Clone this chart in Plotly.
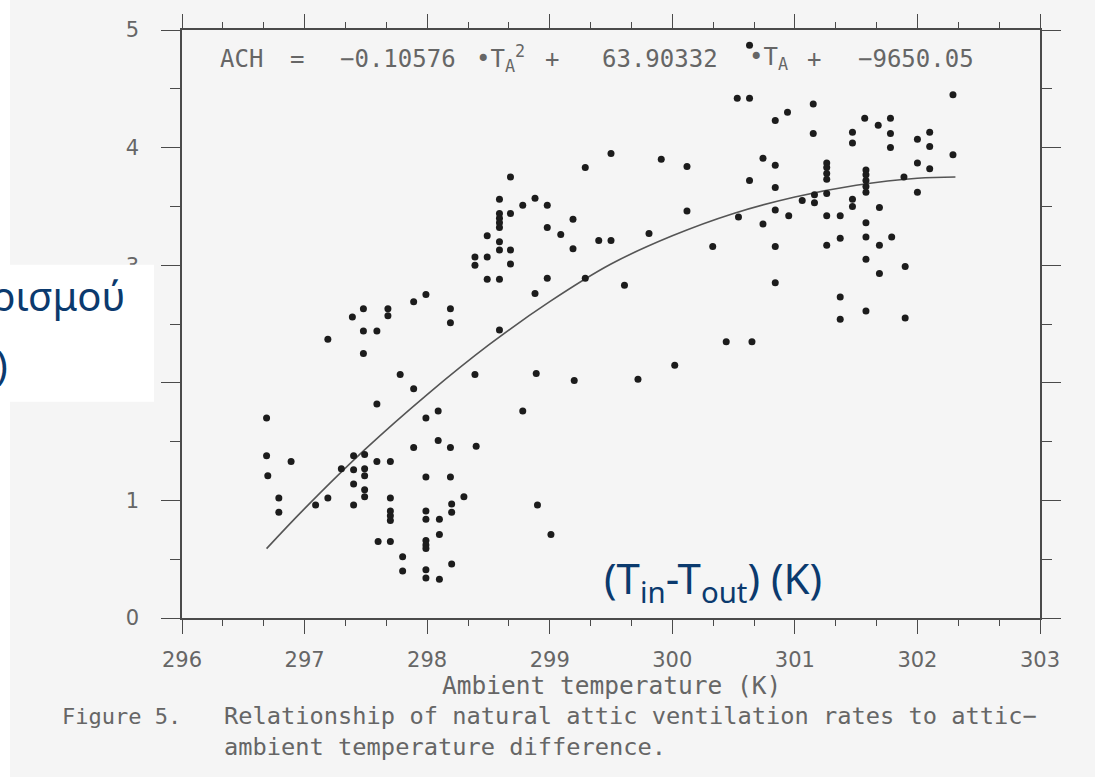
import plotly.graph_objects as go

# ---------------- data ----------------
temp_k = [
    296.69, 296.69, 296.89, 296.70, 296.79, 296.79, 297.09, 297.19, 297.30, 297.40,
    297.49, 297.40, 297.49, 297.49, 297.40, 297.49, 297.49, 297.40, 297.59, 297.89,
    297.59, 297.70, 297.70, 297.70, 297.70, 297.70, 297.60, 297.70, 297.80, 297.80,
    297.99, 298.09, 298.09, 297.89, 298.19, 298.40, 297.99, 298.19, 298.30, 298.20,
    298.20, 297.99, 297.99, 298.10, 298.10, 297.99, 297.99, 297.99, 298.20, 297.99,
    297.99, 298.10, 298.78, 297.19, 297.39, 297.48, 297.48, 297.59, 297.48, 297.68,
    297.68, 297.89, 297.99, 298.19, 298.19, 297.78, 298.39, 298.68, 298.59, 298.59,
    298.59, 298.59, 298.59, 298.68, 298.78, 298.88, 298.98, 298.49, 298.59, 298.59,
    298.68, 298.39, 298.39, 298.49, 298.68, 298.49, 298.59, 298.98, 299.09, 299.19,
    299.19, 299.40, 299.50, 299.29, 299.50, 299.91, 299.81, 298.98, 299.29, 299.61,
    298.88, 298.59, 298.89, 299.20, 299.72, 300.02, 300.53, 300.63, 301.15, 300.94,
    300.84, 301.57, 301.68, 301.78, 301.78, 301.78, 301.47, 301.47, 301.15, 302.10,
    302.10, 302.00, 302.29, 302.29, 302.00, 302.10, 300.12, 300.74, 300.84, 300.63,
    300.84, 301.26, 301.26, 301.26, 301.26, 301.58, 301.58, 301.58, 301.58, 301.58,
    301.89, 302.00, 300.12, 300.54, 300.84, 300.95, 301.06, 301.16, 301.16, 301.26,
    301.47, 301.47, 301.69, 301.26, 301.37, 301.58, 300.74, 300.33, 300.84, 301.26,
    301.37, 301.58, 301.69, 301.79, 301.58, 301.69, 301.90, 300.84, 301.37, 301.37,
    301.58, 301.90, 300.44, 300.65, 300.63, 298.90, 299.01,
]
ach = [
    1.70, 1.38, 1.33, 1.21, 1.02, 0.90, 0.96, 1.02, 1.27, 1.38,
    1.39, 1.26, 1.27, 1.21, 1.14, 1.09, 1.03, 0.96, 1.82, 1.95,
    1.33, 1.33, 1.02, 0.91, 0.87, 0.83, 0.65, 0.65, 0.52, 0.40,
    1.70, 1.76, 1.51, 1.45, 1.45, 1.46, 1.20, 1.20, 1.03, 0.97,
    0.90, 0.91, 0.84, 0.84, 0.71, 0.66, 0.62, 0.59, 0.46, 0.41,
    0.34, 0.33, 1.76, 2.37, 2.56, 2.63, 2.44, 2.44, 2.25, 2.63,
    2.57, 2.69, 2.75, 2.63, 2.51, 2.07, 2.07, 3.75, 3.56, 3.44,
    3.40, 3.36, 3.32, 3.44, 3.51, 3.57, 3.51, 3.25, 3.20, 3.13,
    3.13, 3.07, 3.00, 3.07, 3.01, 2.88, 2.88, 3.32, 3.26, 3.39,
    3.14, 3.21, 3.21, 3.83, 3.95, 3.90, 3.27, 2.89, 2.89, 2.83,
    2.76, 2.45, 2.08, 2.02, 2.03, 2.15, 4.42, 4.42, 4.37, 4.30,
    4.23, 4.25, 4.19, 4.25, 4.12, 4.00, 4.13, 4.04, 4.12, 4.13,
    4.01, 4.07, 4.45, 3.94, 3.87, 3.82, 3.84, 3.91, 3.85, 3.72,
    3.66, 3.87, 3.83, 3.78, 3.73, 3.81, 3.77, 3.72, 3.67, 3.62,
    3.75, 3.62, 3.46, 3.41, 3.47, 3.42, 3.55, 3.60, 3.53, 3.61,
    3.56, 3.50, 3.49, 3.42, 3.42, 3.36, 3.35, 3.16, 3.16, 3.17,
    3.23, 3.24, 3.17, 3.24, 3.05, 2.93, 2.99, 2.85, 2.73, 2.54,
    2.61, 2.55, 2.35, 2.35, 4.87, 0.96, 0.71,
]

# fitted curve, points
fit_temp = [296.69, 297.0, 297.5, 298.0, 298.5, 299.0, 299.5, 300.0, 300.5, 301.0, 301.5, 302.0, 302.31]
fit_ach = [0.59, 0.93, 1.44, 1.90, 2.32, 2.69, 3.01, 3.25, 3.44, 3.58, 3.68, 3.74, 3.75]

x_ticks = [296, 297, 298, 299, 300, 301, 302, 303]
y_ticks = [0, 1, 2, 3, 4, 5]

equation_tokens = ["ACH", "=", "\u22120.10576", "\u2022T<sub>A</sub><sup>2</sup>", "+",
                   "63.90332", "\u2022T<sub>A</sub>", "+", "\u22129650.05"]
x_title = "Ambient temperature (K)"
caption_label = "Figure 5."
caption_line1 = "Relationship of natural attic ventilation rates to attic\u2212"
caption_line2 = "ambient temperature difference."
overlay_y_line1 = "Ρυθμός αερισμού"
overlay_y_line2 = "(ACH)"
overlay_dt = "(T<sub>in</sub>-T<sub>out</sub>) (K)"

# ---------------- layout geometry ----------------
W, H = 1095, 777
L, R = 182, 1040
T, B = 30, 618.5
PW, PH = R - L, B - T


def px2x(px):
    return (px - L) / PW


def py2y(py):
    return 1 - (py - T) / PH


INK = "#4a4a4a"
TXT = "#666666"
NAVY = "#0b3a6e"
BG = "#f5f5f5"

fig = go.Figure()
fig.add_trace(go.Scatter(
    x=fit_temp, y=fit_ach, mode="lines", line=dict(color="#555555", width=1.6, shape="spline"),
    hoverinfo="skip", showlegend=False))
fig.add_trace(go.Scatter(
    x=temp_k, y=ach, mode="markers", marker=dict(color="#1c1c1c", size=7),
    showlegend=False))

axis_common = dict(
    showgrid=False, zeroline=False, showline=True, linecolor=INK, linewidth=1.5,
    mirror="allticks", ticks="outside", tickcolor=INK, tickwidth=1.3,
    tickfont=dict(family="DejaVu Sans", size=21, color=TXT),
)
fig.update_xaxes(
    range=[296, 303], tickvals=x_ticks, ticklen=14, ticklabelstandoff=8,
    minor=dict(dtick=1 / 3, tick0=296, ticklen=6, ticks="outside", tickcolor=INK, tickwidth=1.2),
    **axis_common)
fig.update_yaxes(
    range=[0, 5], tickvals=y_ticks, ticklen=19, ticklabelstandoff=18,
    minor=dict(dtick=0.5, tick0=0, ticklen=10, ticks="outside", tickcolor=INK, tickwidth=1.2),
    **axis_common)

annotations = []
eq_centers = [241, 297, 398, 500, 552, 660, 768, 814, 916]
for tok, cx in zip(equation_tokens, eq_centers):
    annotations.append(dict(
        text=tok, x=px2x(cx), y=py2y(59), xref="paper", yref="paper",
        xanchor="center", yanchor="middle", showarrow=False,
        font=dict(family="DejaVu Sans Mono", size=24, color=TXT)))

annotations.append(dict(
    text=x_title, x=px2x(611), y=py2y(686), xref="paper", yref="paper",
    xanchor="center", yanchor="middle", showarrow=False,
    font=dict(family="DejaVu Sans Mono", size=24.5, color=TXT)))
annotations.append(dict(
    text=caption_label, x=px2x(60), y=py2y(717), xref="paper", yref="paper",
    xanchor="left", yanchor="middle", showarrow=False,
    font=dict(family="DejaVu Sans Mono", size=22, color=TXT)))
annotations.append(dict(
    text=caption_line1, x=px2x(222), y=py2y(717), xref="paper", yref="paper",
    xanchor="left", yanchor="middle", showarrow=False,
    font=dict(family="DejaVu Sans Mono", size=23.7, color=TXT)))
annotations.append(dict(
    text=caption_line2, x=px2x(222), y=py2y(748), xref="paper", yref="paper",
    xanchor="left", yanchor="middle", showarrow=False,
    font=dict(family="DejaVu Sans Mono", size=23.7, color=TXT)))

annotations.append(dict(
    text=overlay_y_line1, x=px2x(127), y=py2y(296), xref="paper", yref="paper",
    xanchor="right", yanchor="middle", showarrow=False,
    font=dict(family="Noto Sans", size=40, color=NAVY)))
annotations.append(dict(
    text=overlay_y_line2, x=px2x(10), y=py2y(365), xref="paper", yref="paper",
    xanchor="right", yanchor="middle", showarrow=False,
    font=dict(family="Noto Sans", size=40, color=NAVY)))
annotations.append(dict(
    text=overlay_dt, x=px2x(713), y=py2y(581), xref="paper", yref="paper",
    xanchor="center", yanchor="middle", showarrow=False,
    font=dict(family="Noto Sans", size=42, color=NAVY)))

shapes = [
    dict(type="rect", xref="paper", yref="paper", x0=px2x(-5), x1=px2x(10), y0=py2y(-5), y1=py2y(H + 5),
         fillcolor="white", line=dict(width=0), layer="above"),
    dict(type="rect", xref="paper", yref="paper", x0=px2x(-5), x1=px2x(154), y0=py2y(265), y1=py2y(402),
         fillcolor="white", line=dict(width=0), layer="above"),
]

fig.update_layout(
    width=W, height=H, margin=dict(l=L, r=W - R, t=T, b=H - B, autoexpand=False),
    paper_bgcolor=BG, plot_bgcolor=BG, annotations=annotations, shapes=shapes,
    showlegend=False)

fig.write_html("out.html")
